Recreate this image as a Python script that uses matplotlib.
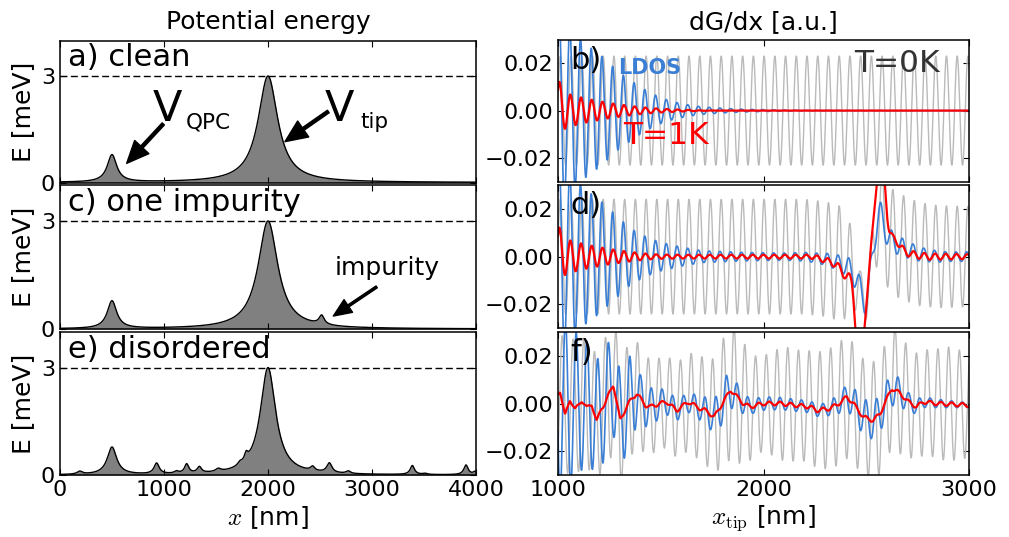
import numpy as np
import matplotlib.pyplot as plt

# ---------------- left column: potential energy peaks (centre nm, height meV, half width nm)
qpc_peak = (500, 0.77, 55)
tip_peak = (2000, 3.0, 115)
imp_peak = (2516, 0.25, 30)
dis_tip_peak = (2000, 3.0, 90)
dis_pos = [190, 929, 1120, 1218, 1340, 1522, 1730, 1790, 2429, 2590, 2772, 3388, 3510, 3904, 3990]
dis_height = [0.08, 0.30, 0.06, 0.26, 0.17, 0.08, 0.08, 0.20, 0.12, 0.27, 0.07, 0.25, 0.03, 0.27, 0.08]
dis_width = [30, 30, 25, 25, 25, 30, 25, 20, 25, 30, 25, 25, 25, 25, 20]

# ---------------- right column: dG/dx, oscillation period (nm) and envelopes
period = 52.2

# b) clean
b_gray_kx = [1000, 3000]
b_gray_amp = [0.023, 0.023]
b_blue_kx = [1000, 1050, 1100, 1150, 1200, 1250, 1300, 1350, 1400, 1450, 1500, 1550, 1600,
             1650, 1700, 1800, 1900, 2000, 2200, 3000]
b_blue_amp = [0.045, 0.036, 0.031, 0.027, 0.024, 0.020, 0.016, 0.013, 0.010, 0.0075, 0.0055,
              0.004, 0.003, 0.0022, 0.0016, 0.001, 0.0006, 0.0004, 0.0001, 0.0]
b_red_kx = [1000, 1050, 1100, 1150, 1200, 1250, 1300, 1350, 1400, 1450, 1500, 1600, 1700, 1800, 3000]
b_red_amp = [0.0095, 0.007, 0.0058, 0.0048, 0.004, 0.0032, 0.0026, 0.002, 0.0015, 0.0011,
             0.0008, 0.0004, 0.0001, 0.0, 0.0]
b_red_tx = [1000, 1030, 3000]
b_red_ty = [0.004, 0.0, 0.0]

# d) one impurity
d_gray_kx = [1000, 2380, 2430, 2470, 2510, 2550, 2600, 3000]
d_gray_amp = [0.024, 0.024, 0.018, 0.008, 0.008, 0.018, 0.022, 0.021]
d_blue_kx = [1000, 1050, 1100, 1150, 1200, 1250, 1300, 1350, 1400, 1450, 1500, 1600, 1700,
             1900, 2100, 2250, 2350, 2450, 2550, 2650, 2750, 2900, 3000]
d_blue_amp = [0.045, 0.036, 0.031, 0.027, 0.024, 0.020, 0.016, 0.012, 0.0095, 0.0075, 0.006,
              0.004, 0.0025, 0.0018, 0.0015, 0.002, 0.003, 0.005, 0.006, 0.004, 0.003, 0.002, 0.002]
d_red_kx = [1000, 1050, 1100, 1150, 1200, 1250, 1300, 1350, 1400, 1450, 1500, 1600, 1800,
            2200, 2400, 2700, 3000]
d_red_amp = [0.0095, 0.007, 0.0058, 0.0048, 0.004, 0.0032, 0.0026, 0.002, 0.0015, 0.0011,
             0.0009, 0.0008, 0.0008, 0.0008, 0.0015, 0.0015, 0.001]
d_red_tx = [1000, 1030, 2240, 2320, 2365, 2390, 2405, 2420, 2437, 2450, 2466, 2482, 2520,
            2555, 2572, 2588, 2605, 2622, 2645, 2665, 2690, 2730, 2800, 3000]
d_red_ty = [0.004, 0.0, 0.0, -0.002, -0.004, -0.0075, -0.0085, -0.008, -0.013, -0.035, -0.045,
            -0.038, 0.0, 0.036, 0.045, 0.036, 0.012, 0.008, 0.0075, 0.004, 0.002, 0.0008, 0.0, 0.0]
d_blue_tx = [1000, 2200, 2300, 2380, 2420, 2450, 2480, 2500, 2520, 2545, 2565, 2590, 2615,
             2650, 2700, 2760, 2850, 3000]
d_blue_ty = [0.0, 0.0, -0.001, -0.003, -0.005, -0.009, -0.016, -0.02, -0.008, 0.012, 0.019,
             0.012, 0.007, 0.005, 0.003, 0.001, 0.0, 0.0]

# f) disordered
f_gray_kx = [1000, 1100, 1200, 1270, 1330, 1400, 1500, 1600, 1700, 1780, 1840, 1900, 1950,
             2000, 2100, 2200, 2300, 2400, 2500, 2560, 2600, 2640, 2700, 2800, 2900, 3000]
f_gray_amp = [0.028, 0.028, 0.026, 0.029, 0.025, 0.021, 0.019, 0.020, 0.022, 0.025, 0.029,
              0.026, 0.021, 0.020, 0.024, 0.023, 0.025, 0.026, 0.024, 0.025, 0.024, 0.027,
              0.023, 0.022, 0.024, 0.022]
f_blue_kx = [1000, 1100, 1200, 1250, 1300, 1350, 1400, 1450, 1500, 1550, 1600, 1700, 1780,
             1820, 1880, 1950, 2100, 2300, 2400, 2450, 2530, 2640, 2700, 2800, 3000]
f_blue_amp = [0.045, 0.030, 0.025, 0.022, 0.020, 0.019, 0.010, 0.008, 0.006, 0.005, 0.004,
              0.005, 0.008, 0.009, 0.005, 0.003, 0.0025, 0.0025, 0.005, 0.007, 0.008, 0.007,
              0.004, 0.002, 0.001]
f_red_kx = [1000, 3000]
f_red_amp = [0.0008, 0.0008]
f_red_tx = [1000, 1010, 1034, 1058, 1083, 1115, 1139, 1164, 1188, 1210, 1229, 1269, 1302,
            1342, 1383, 1424, 1450, 1496, 1529, 1577, 1634, 1691, 1720, 1760, 1800, 1840,
            1902, 1934, 1999, 2080, 2226, 2259, 2324, 2380, 2405, 2437, 2486, 2534, 2567,
            2624, 2664, 2705, 2745, 2778, 2843, 3000]
f_red_ty = [0.004, 0.0057, -0.0055, 0.002, -0.0028, 0.0015, -0.002, 0.0, -0.0079, -0.002,
            0.0, 0.0082, -0.0071, 0.0, 0.0043, -0.0007, -0.0014, 0.0, 0.0007, -0.0029,
            0.0007, -0.0021, -0.003, -0.0057, 0.0, 0.0057, 0.0, -0.0014, 0.0, 0.0, -0.0014,
            -0.0029, -0.0021, 0.0007, 0.0029, 0.0, -0.0057, -0.0071, -0.0043, 0.0064, 0.0043,
            0.0007, -0.0014, 0.0007, 0.0, -0.0007]


def lorentz(x, peak):
    c, h, w = peak
    return h / (1 + ((x - c) / w) ** 2)


def osc(x, kx, amp, x0):
    return np.interp(x, kx, amp) * np.cos(2 * np.pi * (x - x0) / period)


def trend(x, kx, ky, n=41):
    y = np.interp(x, kx, ky)
    k = np.ones(n) / n
    return np.convolve(np.pad(y, n // 2, mode='edge'), k, mode='valid')


plt.rcParams['font.family'] = 'DejaVu Sans'
plt.rcParams['xtick.direction'] = 'in'
plt.rcParams['ytick.direction'] = 'in'
plt.rcParams['xtick.top'] = True
plt.rcParams['ytick.right'] = True
plt.rcParams['xtick.major.size'] = 4
plt.rcParams['ytick.major.size'] = 4
plt.rcParams['xtick.labelsize'] = 16
plt.rcParams['ytick.labelsize'] = 16
plt.rcParams['axes.linewidth'] = 1.1

W, H = 1009, 537
fig = plt.figure(figsize=(W / 100, H / 100), dpi=100)


def rect(left, top, right, bottom):
    return [left / W, 1 - bottom / H, (right - left) / W, (bottom - top) / H]


left_axes = [fig.add_axes(rect(60, 40.5, 476, 182.5)),
             fig.add_axes(rect(60, 185, 476, 329)),
             fig.add_axes(rect(60, 332, 476, 475))]
right_axes = [fig.add_axes(rect(558, 39.5, 969, 181.7)),
              fig.add_axes(rect(558, 185, 969, 328.3)),
              fig.add_axes(rect(558, 332, 969, 475))]

# ---- potentials
xp = np.linspace(0, 4000, 4001)
pot_a = lorentz(xp, qpc_peak) + lorentz(xp, tip_peak)
pot_c = pot_a + lorentz(xp, imp_peak)
pot_e = lorentz(xp, qpc_peak) + lorentz(xp, dis_tip_peak)
for c, h, w in zip(dis_pos, dis_height, dis_width):
    pot_e = pot_e + lorentz(xp, (c, h, w))

labels_left = ['a) clean', 'c) one impurity', 'e) disordered']
for ax, pot, lab in zip(left_axes, [pot_a, pot_c, pot_e], labels_left):
    ax.fill_between(xp, 0, pot, color='#808080', lw=0)
    ax.plot(xp, pot, color='k', lw=1)
    ax.axhline(3, color='k', lw=1, dashes=(5, 2.5))
    ax.set_xlim(0, 4000)
    ax.set_ylim(0, 4)
    ax.set_yticks([0, 3])
    ax.set_xticks([0, 1000, 2000, 3000, 4000])
    ax.text(0.02, 0.82, lab, transform=ax.transAxes, fontsize=22, va='baseline')
    ax.text(-0.089, 0.5, 'E [meV]', transform=ax.transAxes, rotation=90,
            ha='center', va='center', fontsize=18)
for ax in left_axes[:2]:
    ax.tick_params(labelbottom=False)

# annotations in a) and c)
arrow = dict(facecolor='black', edgecolor='black', width=2.2, headwidth=14, headlength=16, shrink=0)
ax = left_axes[0]
ax.annotate('', xy=(641, 0.54), xytext=(993, 1.65), arrowprops=arrow)
ax.annotate('', xy=(2163, 1.15), xytext=(2580, 2.0), arrowprops=arrow)
ax.text(891, 1.72, 'V', fontsize=31, va='baseline')
ax.text(1209, 1.53, 'QPC', fontsize=15.5, va='baseline')
ax.text(2548, 1.72, 'V', fontsize=31, va='baseline')
ax.text(2885, 1.53, 'tip', fontsize=15.5, va='baseline')
ax = left_axes[1]
ax.annotate('', xy=(2628, 0.36), xytext=(3045, 1.17),
            arrowprops=dict(facecolor='black', edgecolor='black', width=1.6,
                            headwidth=11, headlength=13, shrink=0))
ax.text(2644, 1.5, 'impurity', fontsize=18, va='baseline')

# ---- dG/dx
xt = np.linspace(1000, 3000, 4001)
gray_c = '#bababa'
blue_c = '#3a7fd5'

curves = [
    (osc(xt, b_gray_kx, b_gray_amp, 1220),
     osc(xt, b_blue_kx, b_blue_amp, 1214),
     osc(xt, b_red_kx, b_red_amp, 1008) + trend(xt, b_red_tx, b_red_ty)),
    (osc(xt, d_gray_kx, d_gray_amp, 1220) + trend(xt, d_blue_tx, d_blue_ty),
     osc(xt, d_blue_kx, d_blue_amp, 1214) + trend(xt, d_blue_tx, d_blue_ty),
     osc(xt, d_red_kx, d_red_amp, 1008) + trend(xt, d_red_tx, d_red_ty)),
    (osc(xt, f_gray_kx, f_gray_amp, 2640) + trend(xt, f_red_tx, f_red_ty, 11),
     osc(xt, f_blue_kx, f_blue_amp, 1245) + trend(xt, f_red_tx, f_red_ty, 11),
     osc(xt, f_red_kx, f_red_amp, 1245) + trend(xt, f_red_tx, f_red_ty, 11)),
]

labels_right = ['b)', 'd)', 'f)']
for ax, (g, b, r), lab in zip(right_axes, curves, labels_right):
    ax.plot(xt, g, color=gray_c, lw=1.0)
    ax.plot(xt, b, color=blue_c, lw=1.2)
    ax.plot(xt, r, color='red', lw=1.6)
    ax.set_xlim(1000, 3000)
    ax.set_ylim(-0.03, 0.03)
    ax.set_xticks([1000, 2000, 3000])
    ax.set_yticks([-0.02, 0.0, 0.02])
    ax.set_yticklabels(['\u22120.02', '0.00', '0.02'])
    ax.text(0.03, 0.795, lab, transform=ax.transAxes, fontsize=22, va='baseline')
for ax in right_axes[:2]:
    ax.tick_params(labelbottom=False)

ax = right_axes[0]
ax.text(0.147, 0.756, 'LDOS', transform=ax.transAxes, color=blue_c, fontsize=15,
        fontweight='bold', va='baseline')
ax.text(0.159, 0.265, 'T=1K', transform=ax.transAxes, color='red', fontsize=22.5, va='baseline')
ax.text(0.72, 0.772, 'T=0K', transform=ax.transAxes, color='#333333', fontsize=22.5, va='baseline')

# column titles and x labels
fig.text(268 / W, 1 - 22 / H, 'Potential energy', ha='center', va='center', fontsize=18)
fig.text(763 / W, 1 - 22 / H, 'dG/dx [a.u.]', ha='center', va='center', fontsize=18)
fig.text(268 / W, 1 - 518 / H, '$x$ [nm]', ha='center', va='center', fontsize=18,
         math_fontfamily='cm')
fig.text(763 / W, 1 - 518 / H, r'$x_{\rm tip}$ [nm]', ha='center', va='center', fontsize=18,
         math_fontfamily='cm')

fig.savefig('out.png', dpi=100)
